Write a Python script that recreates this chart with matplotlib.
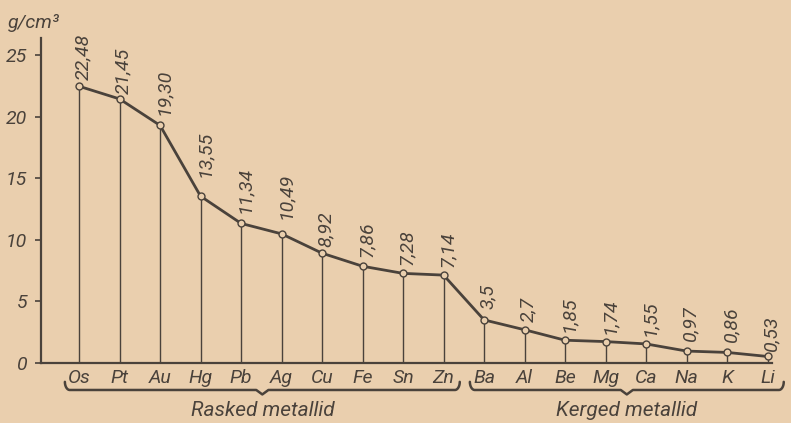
import numpy as np
import matplotlib
matplotlib.use("Agg")
import matplotlib.pyplot as plt
from matplotlib.transforms import blended_transform_factory

# =========================
# 数据
# =========================
metals = ["Os", "Pt", "Au", "Hg", "Pb", "Ag", "Cu", "Fe", "Sn", "Zn",
          "Ba", "Al", "Be", "Mg", "Ca", "Na", "K", "Li"]
density = [22.48, 21.45, 19.30, 13.55, 11.34, 10.49, 8.92, 7.86, 7.28, 7.14,
           3.5, 2.7, 1.85, 1.74, 1.55, 0.97, 0.86, 0.53]
density_labels = ["22,48", "21,45", "19,30", "13,55", "11,34", "10,49", "8,92",
                  "7,86", "7,28", "7,14", "3,5", "2,7", "1,85", "1,74", "1,55",
                  "0,97", "0,86", "0,53"]
groups = ["Rasked metallid", "Kerged metallid"]
group_ranges = [(0, 9), (10, 17)]
y_ticks = [0, 5, 10, 15, 20, 25]

# =========================
# 样式
# =========================
plt.rcParams['font.family'] = ['Roboto', 'DejaVu Sans']
BG = "#eacfae"
INK = "#4a423b"
FS = 14
# 标签与点之间的间隙（像素），避开折线
label_gap = [6, 5, 10, 19, 10, 15, 6, 9, 8, 8, 11, 8, 8, 8, 8, 10, 10, 5]

fig = plt.figure(figsize=(7.91, 4.23), dpi=100, facecolor=BG)
W, H = 791, 423
ax = fig.add_axes([41 / W, (H - 363) / H, (772 - 41) / W, (363 - 38) / H])
ax.set_facecolor(BG)

x = np.arange(len(metals))

# stems
ax.vlines(x, 0, density, color=INK, lw=1.0)
# curve
ax.plot(x, density, color=INK, lw=2.0, zorder=3)
ax.plot(x, density, "o", ms=5, mfc=BG, mec=INK, mew=1.0, zorder=4)

# value labels
for xi, yi, lab, g in zip(x, density, density_labels, label_gap):
    ax.annotate(lab, (xi, yi), xytext=(4, g), textcoords="offset pixels",
                rotation=90, ha="center", va="bottom", fontsize=FS,
                style="italic", color=INK)

ax.set_xlim(-0.94, 17.11)
ax.set_ylim(0, 26.4)

for s in ["top", "right"]:
    ax.spines[s].set_visible(False)
for s in ["left", "bottom"]:
    ax.spines[s].set_color(INK)
    ax.spines[s].set_linewidth(1.6)

ax.set_yticks(y_ticks)
ax.set_yticklabels([str(v) for v in y_ticks], fontsize=FS, style="italic", color=INK)
ax.tick_params(axis="y", length=4, width=1.2, color=INK, pad=6)

ax.set_xticks(x)
ax.set_xticklabels(metals, fontsize=FS, style="italic", color=INK)
ax.tick_params(axis="x", length=0, pad=4)

# unit
fig.text(8 / W, 1 - 23 / H, "g/cm³", fontsize=FS, style="italic", color=INK,
         ha="left", va="center")

# braces
trans = blended_transform_factory(ax.transData, ax.transAxes)


def brace(x0, x1, y, h):
    xm = (x0 + x1) / 2
    t = np.linspace(0, 1, 30)
    r = 0.12
    xs, ys = [], []
    xs += list(x0 + r * (1 - np.cos(t * np.pi / 2)))
    ys += list(y + h - h * np.sin(t * np.pi / 2))
    xs += [xm - 0.15, xm]
    ys += [y, y - h * 0.55]
    xs += [xm + 0.15]
    ys += [y]
    xs += list(x1 - r * (1 - np.cos(t[::-1] * np.pi / 2)))
    ys += list(y + h - h * np.sin(t[::-1] * np.pi / 2))
    ax.plot(xs, ys, color=INK, lw=1.8, transform=trans, clip_on=False,
            solid_capstyle="round", solid_joinstyle="round")
    return xm


for name, (i0, i1) in zip(groups, group_ranges):
    xm = brace(i0 - 0.35, i1 + 0.4, -0.083, 0.025)
    ax.text(xm, -0.145, name, transform=trans, ha="center", va="center",
            fontsize=15, style="italic", color=INK)

fig.savefig("out.png", dpi=100, facecolor=BG)
